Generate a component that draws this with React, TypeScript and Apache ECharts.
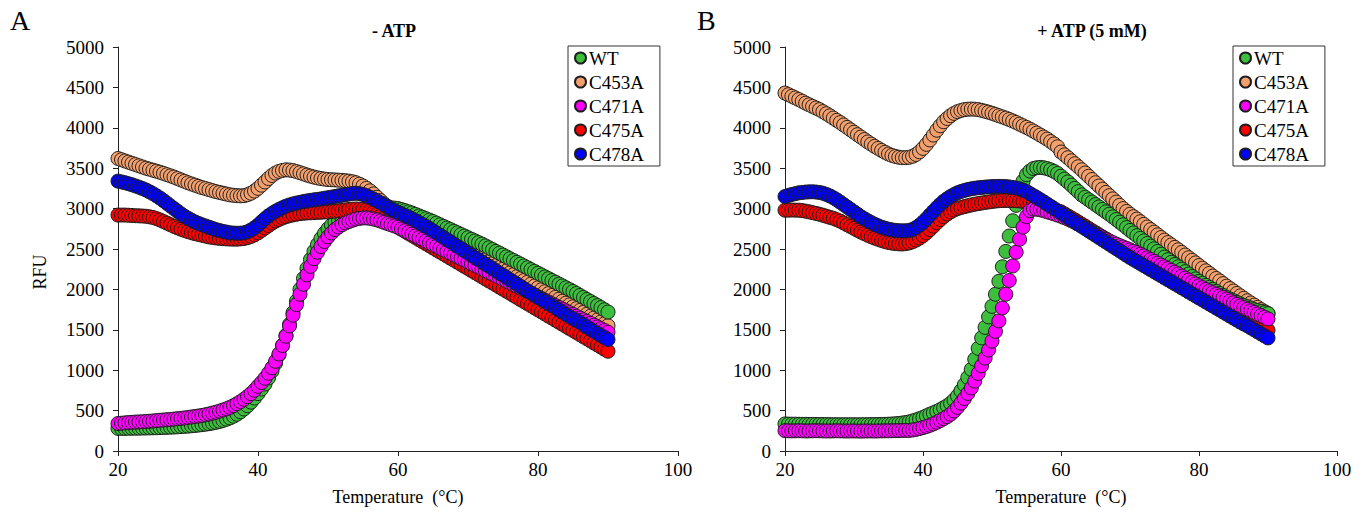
import React, { useEffect, useRef } from "react";
import * as echarts from "echarts";

// Temperature grid (°C), 0.5 °C steps from 20 to 90
const TEMPS: number[] = Array.from({ length: 141 }, (_, i) => 20 + i * 0.5);

const SERIES_NAMES = ["WT", "C453A", "C471A", "C475A", "C478A"];
const COLORS: Record<string, string> = {
  WT: "#3CBF3C",
  C453A: "#F4A06C",
  C471A: "#FF00FF",
  C475A: "#FF0000",
  C478A: "#0000FF",
};
const X_TICKS = [20, 40, 60, 80, 100];
const Y_TICKS = [0, 500, 1000, 1500, 2000, 2500, 3000, 3500, 4000, 4500, 5000];

// Panel A: - ATP
const A_WT = [
  280, 280, 280, 281, 282, 282, 283, 284, 285, 286,
  287, 288, 290, 291, 293, 295, 297, 299, 302, 305,
  308, 312, 316, 321, 326, 332, 338, 346, 355, 366,
  378, 393, 410, 431, 455, 485, 520, 560, 605, 655,
  710, 768, 830, 905, 990, 1085, 1190, 1305, 1430, 1565,
  1710, 1855, 2000, 2135, 2260, 2370, 2470, 2555, 2630, 2695,
  2750, 2795, 2830, 2858, 2880, 2900, 2920, 2936, 2950, 2960,
  2970, 2978, 2985, 2993, 3000, 3005, 3010, 3011, 3010, 3006,
  3000, 2988, 2975, 2960, 2945, 2928, 2910, 2893, 2875, 2858,
  2840, 2820, 2800, 2780, 2760, 2740, 2720, 2700, 2680, 2660,
  2640, 2620, 2600, 2580, 2560, 2538, 2515, 2493, 2470, 2448,
  2425, 2403, 2380, 2358, 2335, 2313, 2290, 2268, 2245, 2223,
  2200, 2178, 2155, 2133, 2110, 2088, 2065, 2043, 2020, 1998,
  1975, 1950, 1925, 1900, 1875, 1850, 1825, 1800, 1775, 1748,
  1720,
];
const A_C453A = [
  3620, 3605, 3590, 3575, 3560, 3545, 3530, 3515, 3500, 3488,
  3475, 3463, 3450, 3435, 3420, 3405, 3390, 3372, 3355, 3338,
  3320, 3305, 3290, 3275, 3260, 3248, 3235, 3222, 3210, 3200,
  3190, 3180, 3170, 3165, 3160, 3158, 3160, 3172, 3190, 3217,
  3250, 3290, 3330, 3372, 3410, 3440, 3460, 3473, 3480, 3477,
  3470, 3458, 3445, 3430, 3415, 3402, 3390, 3380, 3372, 3365,
  3360, 3357, 3355, 3352, 3350, 3345, 3340, 3332, 3320, 3302,
  3280, 3252, 3220, 3182, 3140, 3100, 3060, 3028, 3000, 2975,
  2950, 2928, 2905, 2882, 2860, 2836, 2812, 2788, 2765, 2742,
  2718, 2694, 2670, 2646, 2622, 2598, 2575, 2552, 2528, 2504,
  2480, 2458, 2435, 2412, 2390, 2366, 2342, 2318, 2295, 2272,
  2250, 2228, 2205, 2182, 2158, 2134, 2110, 2088, 2065, 2042,
  2020, 1996, 1972, 1948, 1925, 1902, 1878, 1854, 1830, 1808,
  1785, 1762, 1740, 1716, 1692, 1668, 1645, 1622, 1598, 1574,
  1550,
];
const A_C471A = [
  340, 344, 348, 352, 355, 358, 360, 362, 365, 368,
  372, 376, 380, 384, 387, 391, 395, 400, 404, 409,
  415, 421, 427, 433, 440, 449, 458, 469, 480, 493,
  507, 522, 540, 561, 585, 611, 640, 673, 710, 752,
  800, 848, 900, 962, 1030, 1110, 1200, 1305, 1420, 1548,
  1680, 1812, 1940, 2063, 2180, 2285, 2380, 2460, 2530, 2593,
  2650, 2698, 2740, 2772, 2800, 2822, 2840, 2856, 2870, 2879,
  2885, 2884, 2880, 2871, 2860, 2846, 2830, 2815, 2800, 2785,
  2770, 2748, 2727, 2705, 2684, 2662, 2641, 2620, 2598, 2576,
  2555, 2534, 2512, 2490, 2469, 2448, 2426, 2404, 2383, 2362,
  2340, 2318, 2297, 2276, 2254, 2232, 2211, 2190, 2168, 2146,
  2125, 2104, 2082, 2060, 2039, 2018, 1996, 1974, 1953, 1932,
  1910, 1888, 1866, 1844, 1822, 1800, 1778, 1756, 1734, 1712,
  1690, 1668, 1646, 1624, 1602, 1580, 1558, 1536, 1514, 1492,
  1470,
];
const A_C475A = [
  2920, 2920, 2920, 2918, 2915, 2912, 2910, 2908, 2905, 2898,
  2890, 2876, 2860, 2840, 2820, 2800, 2780, 2762, 2745, 2730,
  2715, 2702, 2690, 2680, 2670, 2660, 2650, 2643, 2637, 2632,
  2628, 2625, 2623, 2622, 2622, 2625, 2630, 2640, 2655, 2675,
  2700, 2730, 2760, 2790, 2820, 2845, 2865, 2884, 2900, 2912,
  2922, 2930, 2938, 2942, 2946, 2948, 2950, 2953, 2955, 2958,
  2960, 2964, 2968, 2973, 2978, 2984, 2990, 2993, 2995, 2993,
  2990, 2982, 2970, 2952, 2930, 2906, 2880, 2853, 2825, 2798,
  2770, 2744, 2718, 2692, 2667, 2642, 2616, 2590, 2565, 2540,
  2514, 2488, 2463, 2438, 2412, 2386, 2361, 2336, 2310, 2284,
  2259, 2233, 2207, 2182, 2156, 2130, 2105, 2080, 2054, 2028,
  2003, 1978, 1952, 1926, 1900, 1874, 1849, 1824, 1798, 1772,
  1747, 1722, 1696, 1670, 1645, 1619, 1593, 1568, 1542, 1516,
  1491, 1466, 1440, 1414, 1389, 1363, 1337, 1312, 1286, 1260,
  1235,
];
const A_C478A = [
  3340, 3330, 3320, 3308, 3295, 3280, 3265, 3248, 3230, 3208,
  3185, 3158, 3130, 3098, 3065, 3032, 3000, 2967, 2935, 2906,
  2880, 2857, 2835, 2817, 2800, 2785, 2770, 2755, 2740, 2729,
  2718, 2709, 2700, 2697, 2695, 2696, 2700, 2714, 2735, 2762,
  2795, 2835, 2875, 2910, 2940, 2966, 2990, 3011, 3030, 3045,
  3058, 3068, 3078, 3087, 3095, 3102, 3108, 3114, 3120, 3128,
  3135, 3142, 3150, 3158, 3165, 3172, 3180, 3186, 3190, 3185,
  3175, 3160, 3140, 3118, 3095, 3070, 3045, 3020, 2995, 2975,
  2955, 2935, 2915, 2895, 2875, 2852, 2828, 2804, 2780, 2752,
  2725, 2698, 2670, 2642, 2615, 2588, 2560, 2532, 2505, 2478,
  2450, 2422, 2395, 2368, 2340, 2312, 2285, 2258, 2230, 2202,
  2175, 2148, 2120, 2092, 2065, 2038, 2010, 1982, 1955, 1928,
  1900, 1875, 1850, 1825, 1800, 1772, 1745, 1718, 1690, 1665,
  1640, 1615, 1590, 1562, 1535, 1508, 1480, 1455, 1430, 1405,
  1380,
];

// Panel B: + ATP (5 mM)
const B_WT = [
  335, 333, 332, 332, 331, 330, 330, 329, 329, 328,
  328, 327, 327, 326, 326, 326, 325, 325, 325, 325,
  325, 325, 325, 326, 326, 327, 327, 328, 329, 330,
  332, 334, 337, 341, 346, 352, 360, 372, 385, 400,
  415, 435, 455, 472, 490, 512, 535, 560, 590, 630,
  680, 745, 820, 910, 1010, 1135, 1270, 1400, 1530, 1660,
  1790, 1940, 2100, 2280, 2470, 2660, 2850, 3040, 3220, 3340,
  3420, 3465, 3495, 3506, 3510, 3505, 3495, 3480, 3460, 3435,
  3400, 3365, 3330, 3290, 3250, 3210, 3170, 3140, 3110, 3080,
  3050, 3020, 2990, 2960, 2930, 2898, 2865, 2832, 2800, 2765,
  2730, 2698, 2665, 2632, 2600, 2568, 2535, 2502, 2470, 2435,
  2400, 2368, 2335, 2308, 2280, 2250, 2220, 2190, 2160, 2130,
  2100, 2075, 2050, 2025, 2000, 1975, 1950, 1925, 1900, 1880,
  1860, 1840, 1820, 1802, 1785, 1768, 1750, 1738, 1725, 1712,
  1700,
];
const B_C453A = [
  4430, 4410, 4390, 4370, 4350, 4328, 4305, 4285, 4265, 4245,
  4225, 4200, 4175, 4148, 4120, 4092, 4065, 4035, 4005, 3975,
  3945, 3915, 3885, 3855, 3825, 3798, 3770, 3745, 3720, 3697,
  3675, 3658, 3645, 3636, 3630, 3630, 3635, 3648, 3670, 3703,
  3745, 3795, 3850, 3910, 3970, 4025, 4075, 4115, 4150, 4178,
  4200, 4214, 4225, 4230, 4232, 4230, 4225, 4216, 4205, 4193,
  4180, 4165, 4150, 4135, 4120, 4103, 4085, 4066, 4045, 4025,
  4005, 3983, 3960, 3935, 3910, 3885, 3860, 3830, 3800, 3765,
  3700, 3665, 3630, 3592, 3555, 3518, 3480, 3440, 3400, 3360,
  3320, 3280, 3240, 3200, 3160, 3120, 3080, 3040, 3000, 2965,
  2930, 2900, 2870, 2838, 2805, 2772, 2740, 2708, 2675, 2642,
  2610, 2580, 2550, 2520, 2490, 2458, 2425, 2392, 2360, 2328,
  2295, 2262, 2230, 2198, 2165, 2135, 2105, 2072, 2040, 2010,
  1980, 1950, 1920, 1890, 1860, 1832, 1805, 1778, 1750, 1725,
  1700,
];
const B_C471A = [
  252, 250, 249, 250, 251, 250, 248, 249, 250, 251,
  250, 249, 248, 248, 249, 250, 249, 248, 247, 248,
  248, 247, 246, 247, 248, 248, 247, 248, 249, 250,
  250, 251, 252, 253, 254, 255, 255, 260, 268, 278,
  290, 303, 318, 335, 355, 377, 400, 425, 455, 495,
  540, 592, 650, 712, 780, 865, 960, 1055, 1150, 1250,
  1360, 1480, 1610, 1770, 1940, 2110, 2290, 2460, 2620, 2770,
  2900, 2975, 2995, 2992, 2985, 2975, 2960, 2948, 2935, 2920,
  2905, 2888, 2870, 2850, 2830, 2808, 2785, 2762, 2740, 2715,
  2690, 2665, 2640, 2620, 2600, 2580, 2560, 2542, 2525, 2508,
  2490, 2472, 2455, 2435, 2415, 2392, 2370, 2348, 2325, 2302,
  2280, 2258, 2235, 2212, 2190, 2165, 2140, 2115, 2090, 2068,
  2045, 2022, 2000, 1980, 1960, 1940, 1920, 1900, 1880, 1858,
  1835, 1815, 1795, 1775, 1755, 1735, 1715, 1695, 1675, 1655,
  1635,
];
const B_C475A = [
  2980, 2981, 2982, 2981, 2980, 2975, 2968, 2960, 2950, 2940,
  2930, 2918, 2905, 2892, 2880, 2863, 2845, 2823, 2800, 2778,
  2755, 2732, 2710, 2690, 2670, 2652, 2635, 2620, 2605, 2592,
  2580, 2573, 2567, 2564, 2562, 2566, 2575, 2590, 2610, 2635,
  2665, 2700, 2740, 2782, 2825, 2864, 2900, 2932, 2960, 2982,
  3000, 3013, 3025, 3035, 3045, 3054, 3062, 3069, 3076, 3082,
  3088, 3093, 3097, 3099, 3100, 3100, 3100, 3098, 3095, 3090,
  3085, 3076, 3065, 3053, 3040, 3026, 3012, 2998, 2985, 2973,
  2960, 2935, 2910, 2885, 2860, 2834, 2808, 2782, 2755, 2728,
  2702, 2676, 2650, 2624, 2598, 2572, 2545, 2518, 2492, 2466,
  2440, 2415, 2390, 2365, 2340, 2315, 2290, 2265, 2240, 2215,
  2190, 2165, 2140, 2115, 2090, 2065, 2040, 2016, 1992, 1968,
  1945, 1922, 1898, 1874, 1850, 1829, 1808, 1786, 1765, 1742,
  1720, 1698, 1675, 1652, 1630, 1608, 1585, 1562, 1540, 1518,
  1495,
];
const B_C478A = [
  3150, 3163, 3175, 3185, 3195, 3200, 3205, 3207, 3208, 3205,
  3200, 3190, 3175, 3157, 3135, 3110, 3080, 3050, 3020, 2990,
  2960, 2930, 2900, 2875, 2850, 2827, 2805, 2787, 2770, 2757,
  2745, 2737, 2730, 2727, 2725, 2726, 2730, 2743, 2765, 2795,
  2830, 2873, 2920, 2965, 3010, 3052, 3090, 3122, 3150, 3174,
  3195, 3211, 3225, 3236, 3245, 3252, 3258, 3262, 3266, 3269,
  3272, 3274, 3275, 3274, 3272, 3268, 3262, 3255, 3245, 3230,
  3210, 3186, 3160, 3136, 3110, 3083, 3055, 3028, 3000, 2973,
  2945, 2918, 2890, 2862, 2835, 2808, 2780, 2752, 2725, 2698,
  2670, 2642, 2615, 2588, 2560, 2532, 2505, 2478, 2450, 2422,
  2395, 2370, 2345, 2320, 2295, 2270, 2245, 2220, 2195, 2170,
  2145, 2120, 2095, 2070, 2045, 2020, 1995, 1970, 1945, 1920,
  1895, 1870, 1845, 1820, 1795, 1770, 1745, 1720, 1695, 1670,
  1645, 1620, 1595, 1572, 1550, 1525, 1500, 1475, 1450, 1425,
  1400,
];

const PANEL_A: Record<string, number[]> = {
  WT: A_WT, C453A: A_C453A, C471A: A_C471A, C475A: A_C475A, C478A: A_C478A,
};
const PANEL_B: Record<string, number[]> = {
  WT: B_WT, C453A: B_C453A, C471A: B_C471A, C475A: B_C475A, C478A: B_C478A,
};
// drawing order (later = on top)
const DRAW_ORDER = ["C453A", "WT", "C475A", "C471A", "C478A"];

const SERIF = "'Liberation Serif', 'Times New Roman', serif";

function makeAxes(gridIndex: number) {
  const x = {
    type: "value",
    gridIndex,
    min: X_TICKS[0],
    max: X_TICKS[X_TICKS.length - 1],
    interval: 20,
    name: "Temperature  (°C)",
    nameLocation: "middle",
    nameGap: 37,
    nameTextStyle: { fontFamily: SERIF, fontSize: 18, color: "#000" },
    axisLine: { show: true, onZero: false, lineStyle: { color: "#222", width: 1 } },
    axisTick: { show: true, inside: false, length: 5, lineStyle: { color: "#222" } },
    axisLabel: {
      fontFamily: SERIF, fontSize: 19, color: "#000", margin: 9,
      formatter: (v: number) => String(v),
    },
    splitLine: { show: false },
  };
  const y = {
    type: "value",
    gridIndex,
    min: Y_TICKS[0],
    max: Y_TICKS[Y_TICKS.length - 1],
    interval: 500,
    axisLine: { show: true, onZero: false, lineStyle: { color: "#222", width: 1 } },
    axisTick: { show: true, inside: false, length: 5, lineStyle: { color: "#222" } },
    axisLabel: {
      fontFamily: SERIF, fontSize: 19, color: "#000", margin: 14,
      formatter: (v: number) => String(v),
    },
    splitLine: { show: false },
  };
  return { x, y };
}

function makeSeries(panel: Record<string, number[]>, idx: number) {
  return DRAW_ORDER.map((name) => ({
    name,
    type: "scatter",
    xAxisIndex: idx,
    yAxisIndex: idx,
    symbol: "circle",
    symbolSize: 14,
    silent: true,
    itemStyle: {
      color: COLORS[name],
      borderColor: "#1e1e1e",
      borderWidth: 1,
      opacity: 1,
    },
    data: TEMPS.map((t, i) => [t, panel[name][i]]),
  }));
}

function makeLegend(left: number) {
  return {
    orient: "vertical",
    left,
    top: 46,
    data: SERIES_NAMES,
    icon: "circle",
    itemWidth: 11,
    itemHeight: 11,
    itemGap: 4,
    padding: [2, 16, 2, 6],
    borderColor: "#333",
    borderWidth: 1,
    backgroundColor: "#fff",
    selectedMode: false,
    textStyle: {
      fontFamily: SERIF,
      fontSize: 19,
      color: "#000",
      lineHeight: 20,
      padding: [0, 0, 0, -2],
    },
  };
}

export default function App() {
  const ref = useRef<HTMLDivElement>(null);
  useEffect(() => {
    if (!ref.current) return;
    const chart = echarts.init(ref.current, null, { renderer: "svg" });
    const a = makeAxes(0);
    const b = makeAxes(1);
    const option: any = {
      animation: false,
      backgroundColor: "#fff",
      grid: [
        { left: 118, top: 47, width: 560, height: 404 },
        { left: 785, top: 47, width: 552, height: 404 },
      ],
      xAxis: [a.x, b.x],
      yAxis: [a.y, b.y],
      legend: [makeLegend(568), makeLegend(1233)],
      graphic: [
        {
          type: "text", left: 10, top: 6,
          style: { text: "A", font: `28px ${SERIF}`, fill: "#000" },
        },
        {
          type: "text", left: 697, top: 6,
          style: { text: "B", font: `28px ${SERIF}`, fill: "#000" },
        },
        {
          type: "text", x: 394, y: 31,
          style: { text: "- ATP", font: `bold 18px ${SERIF}`, fill: "#000", textAlign: "center", textVerticalAlign: "middle" },
        },
        {
          type: "text", x: 1092, y: 31,
          style: { text: "+ ATP (5 mM)", font: `bold 18px ${SERIF}`, fill: "#000", textAlign: "center", textVerticalAlign: "middle" },
        },
        {
          type: "text", x: 40, y: 272, rotation: Math.PI / 2,
          style: { text: "RFU", font: `18px ${SERIF}`, fill: "#000", textAlign: "center", textVerticalAlign: "middle" },
        },
      ],
      series: [...makeSeries(PANEL_A, 0), ...makeSeries(PANEL_B, 1)],
    };
    chart.setOption(option);
    return () => chart.dispose();
  }, []);
  return (
    <div
      ref={ref}
      style={{ position: "fixed", left: 0, top: 0, width: 1369, height: 521, background: "#fff" }}
    />
  );
}
